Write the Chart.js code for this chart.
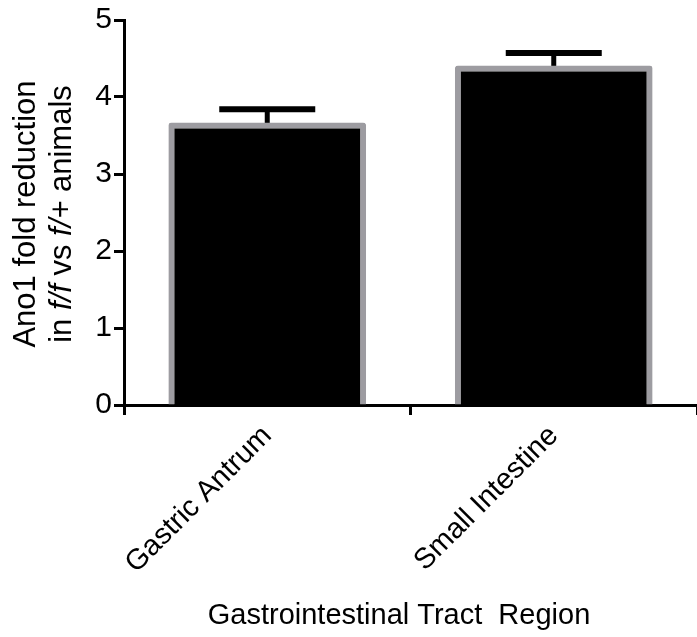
<!DOCTYPE html>
<html>
<head>
<meta charset="utf-8">
<script src="https://cdn.jsdelivr.net/npm/chart.js@4/dist/chart.umd.min.js"></script>
<style>
  html, body { margin: 0; padding: 0; background: #fff; }
  #wrap { width: 697px; height: 637px; }
</style>
</head>
<body>
<div id="wrap"><canvas id="c" width="697" height="637"></canvas></div>
<script>
// Gut regions and Ano1 fold reduction (mean, SEM)
const regions = ['Gastric Antrum', 'Small Intestine'];
const foldReduction = [3.67, 4.41];
const sem = [0.17, 0.16];
const yTicks = [0, 1, 2, 3, 4, 5];
const xTitle = 'Gastrointestinal Tract  Region';

const FONT = "'Liberation Sans', Arial, Helvetica, sans-serif";

// Mean ± SEM whiskers (up only), drawn beneath the bar outline
const errorBars = {
  id: 'errorBars',
  beforeDatasetsDraw(chart) {
    const meta = chart.getDatasetMeta(0);
    const y = chart.scales.y;
    const ctx = chart.ctx;
    ctx.save();
    ctx.strokeStyle = '#000';
    ctx.lineCap = 'butt';
    meta.data.forEach((bar, i) => {
      const top = y.getPixelForValue(foldReduction[i] + sem[i]);
      const base = y.getPixelForValue(foldReduction[i]);
      ctx.lineWidth = 5;
      ctx.beginPath();
      ctx.moveTo(bar.x, base + 3);
      ctx.lineTo(bar.x, top);
      ctx.stroke();
      ctx.lineWidth = 6;
      ctx.beginPath();
      ctx.moveTo(bar.x - 48, top);
      ctx.lineTo(bar.x + 48, top);
      ctx.stroke();
    });
    ctx.restore();
  }
};

// Axis titles: two-line y title with italic genotype labels, and the x title
const axisTitles = {
  id: 'axisTitles',
  afterDraw(chart) {
    const ctx = chart.ctx;
    const size = 31;
    const normal = `${size}px ${FONT}`;
    const italic = `italic ${size}px ${FONT}`;
    const lines = [
      { x: 35, parts: [['Ano1 fold reduction', normal]] },
      { x: 71, parts: [['in ', normal], ['f/f', italic], [' vs ', normal], ['f/+', italic], [' animals', normal]] }
    ];
    const cy = 214;
    ctx.save();
    ctx.fillStyle = '#000';
    ctx.textBaseline = 'alphabetic';
    ctx.textAlign = 'left';
    lines.forEach(line => {
      let total = 0;
      line.parts.forEach(([t, f]) => { ctx.font = f; total += ctx.measureText(t).width; });
      ctx.save();
      ctx.translate(line.x, cy);
      ctx.rotate(-Math.PI / 2);
      let pos = -total / 2;
      line.parts.forEach(([t, f]) => {
        ctx.font = f;
        ctx.fillText(t, pos, 0);
        pos += ctx.measureText(t).width;
      });
      ctx.restore();
    });

    ctx.font = `29px ${FONT}`;
    ctx.textAlign = 'center';
    ctx.fillText(xTitle, 399, 624);
    ctx.restore();
  }
};

new Chart(document.getElementById('c'), {
  type: 'bar',
  data: {
    labels: regions,
    datasets: [{
      data: foldReduction,
      backgroundColor: '#000000',
      borderColor: '#9d9ca1',
      borderWidth: 6,
      borderSkipped: 'start',
      borderRadius: 3,
      barPercentage: 0.69,
      categoryPercentage: 1.0
    }]
  },
  options: {
    responsive: false,
    animation: false,
    devicePixelRatio: 1,
    layout: { padding: 0 },
    plugins: {
      legend: { display: false },
      tooltip: { enabled: false }
    },
    scales: {
      x: {
        offset: true,
        grid: {
          display: true,
          drawOnChartArea: false,
          drawTicks: true,
          tickLength: 10,
          tickWidth: 3,
          tickColor: '#000'
        },
        border: { display: true, color: '#000', width: 3 },
        ticks: {
          autoSkip: false,
          minRotation: 45,
          maxRotation: 45,
          padding: 4,
          color: '#000',
          font: { family: FONT, size: 29 }
        },
        title: { display: false },
        afterFit(scale) {
          scale.height = 232;
          scale.paddingLeft = 0;
          scale.paddingRight = 0;
        }
      },
      y: {
        min: 0,
        max: 5,
        afterBuildTicks(scale) {
          scale.ticks = yTicks.map(v => ({ value: v }));
        },
        grid: {
          display: true,
          drawOnChartArea: false,
          drawTicks: true,
          tickLength: 10,
          tickWidth: 3,
          tickColor: '#000'
        },
        border: { display: true, color: '#000', width: 3 },
        ticks: {
          padding: 2,
          color: '#000',
          font: { family: FONT, size: 30 }
        },
        afterFit(scale) {
          scale.width = 124;
          scale.paddingTop = 20;
          scale.paddingBottom = 0;
        }
      }
    }
  },
  plugins: [errorBars, axisTitles]
});
</script>
</body>
</html>
